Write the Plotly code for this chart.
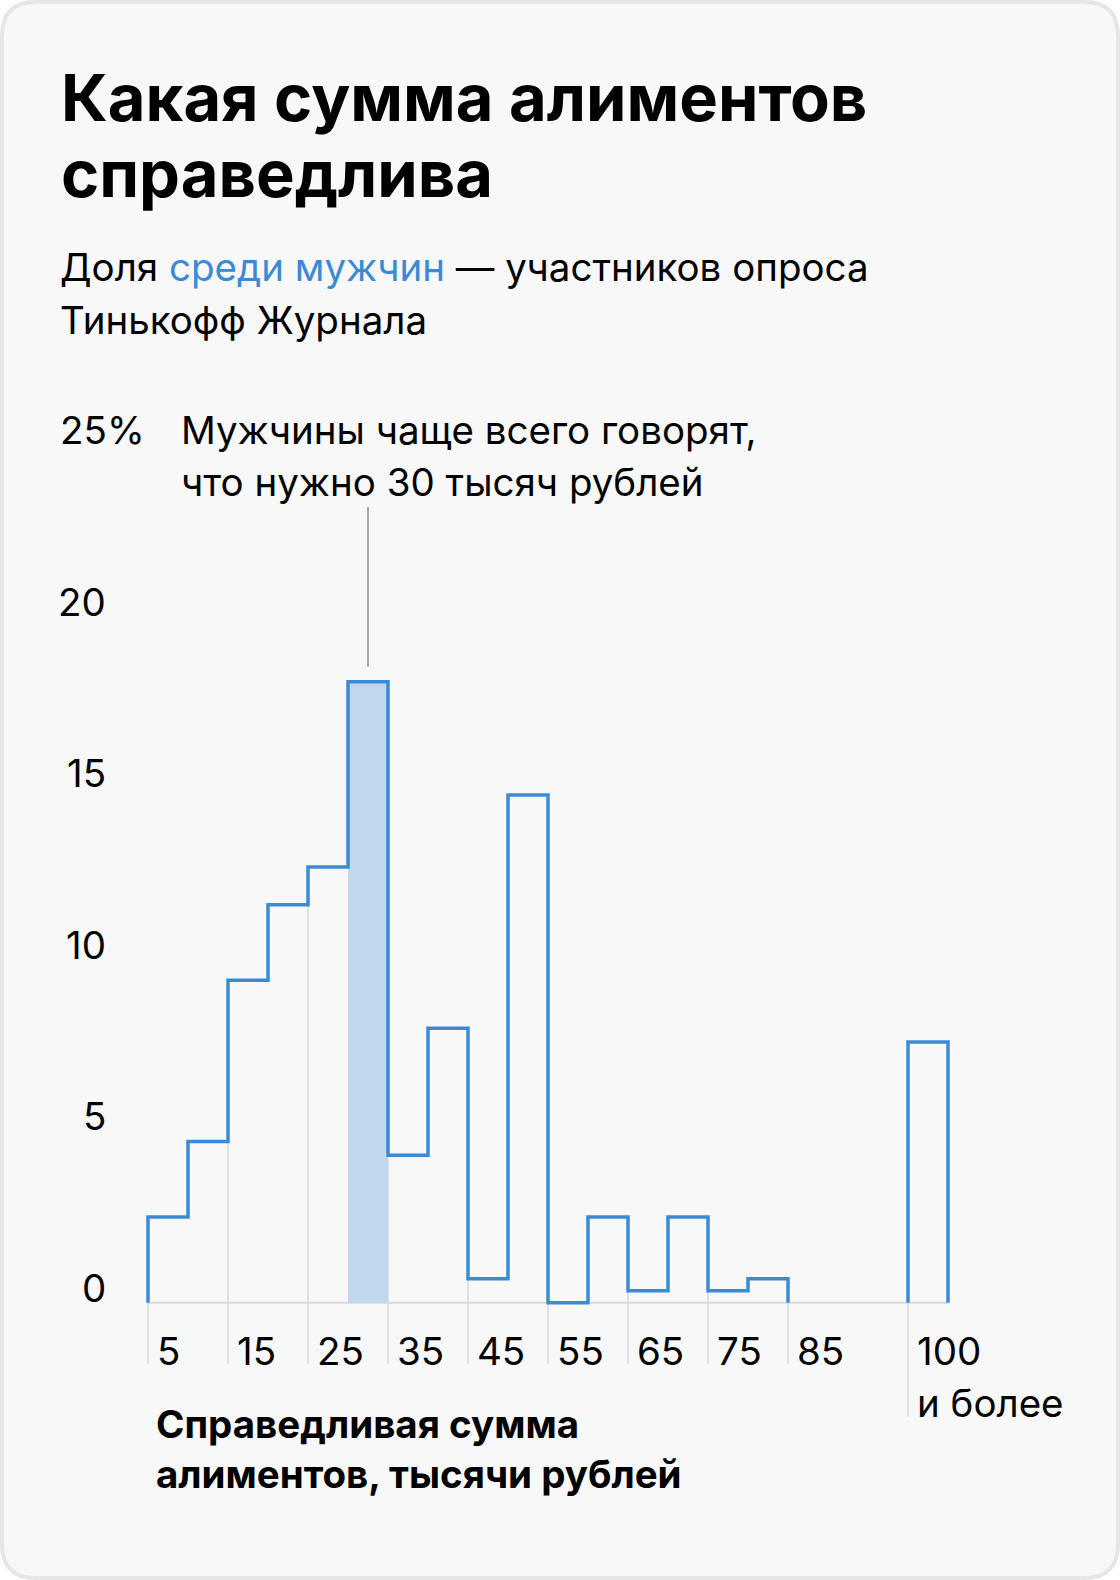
import plotly.graph_objects as go

# ---------------- data ----------------
bin_starts = [5, 10, 15, 20, 25, 30, 35, 40, 45, 50, 55, 60, 65, 70, 75, 80, 100]
shares = [2.5, 4.7, 9.4, 11.6, 12.7, 18.1, 4.3, 8.0, 0.7, 14.8, 0.0, 2.5, 0.35, 2.5, 0.35, 0.7, 7.6]
bin_width = 5
highlight_start = 30

x_tick_values = [5, 15, 25, 35, 45, 55, 65, 75, 85, 100]
x_tick_labels = ["5", "15", "25", "35", "45", "55", "65", "75", "85", "100"]
x_last_extra = "и более"
y_tick_values = [0, 5, 10, 15, 20, 25]
y_tick_labels = ["0", "5", "10", "15", "20", "25%"]

title_lines = ["Какая сумма алиментов", "справедлива"]
subtitle_lines = ["Доля <span style=\"color:#3b8ad6\">среди мужчин</span> — участников опроса",
                  "Тинькофф Журнала"]
note_lines = ["Мужчины чаще всего говорят,", "что нужно 30 тысяч рублей"]
axis_title_lines = ["Справедливая сумма", "алиментов, тысячи рублей"]

# ---------------- style ----------------
W, H = 1120, 1580
ML, MR, MT, MB = 108, 132, 428, 140
X_RANGE = [0, 110]
Y_RANGE = [-4, 25.5]
PW, PH = W - ML - MR, H - MT - MB
FONT = "Inter"
BLUE = "#3b8ad6"
FILL = "#c0d7ee"
GRID = "#d9d9d9"
CARD = "#f8f8f8"
BORDER = "#e6e6e6"
ASC, DESC = 0.969, 0.242  # font metrics


def px_x(px):
    return (px - ML) / PW


def px_y(py):
    return (H - MB - py) / PH


def ymid(baseline, size):
    return baseline - (ASC - DESC) / 2 * size


annotations = []


def add_text(text, x, baseline, size, weight=400, xanchor="left", color="#000"):
    annotations.append(dict(
        text=text, xref="paper", yref="paper", x=px_x(x), y=px_y(ymid(baseline, size)),
        xanchor=xanchor, yanchor="middle", showarrow=False, borderpad=0,
        font=dict(family=FONT, size=size, color=color, weight=weight), align="left"))


# ---------------- step outline ----------------
xs, ys = [], []
prev_end = None
for s, h in zip(bin_starts, shares):
    if prev_end is None or s != prev_end:
        if prev_end is not None:
            xs += [prev_end, None]
            ys += [0, None]
        xs.append(s)
        ys.append(0)
    xs += [s, s + bin_width]
    ys += [h, h]
    prev_end = s + bin_width
xs.append(prev_end)
ys.append(0)

hi_idx = bin_starts.index(highlight_start)
hi_val = shares[hi_idx]

fig = go.Figure()
fig.add_trace(go.Bar(x=[highlight_start + bin_width / 2], y=[hi_val], width=[bin_width],
                     marker=dict(color=FILL, line=dict(width=0)), hoverinfo="skip"))
fig.add_trace(go.Scatter(x=xs, y=ys, mode="lines", line=dict(color=BLUE, width=3.5),
                         cliponaxis=False, hoverinfo="skip", connectgaps=False))

shapes = []
# card background
r, i = 34, 2
def P(px, py):
    return f"{px_x(px):.6f},{px_y(py):.6f}"
path = (f"M{P(r + i, i)} L{P(W - r - i, i)} Q{P(W - i, i)} {P(W - i, r + i)} "
        f"L{P(W - i, H - r - i)} Q{P(W - i, H - i)} {P(W - r - i, H - i)} "
        f"L{P(r + i, H - i)} Q{P(i, H - i)} {P(i, H - r - i)} "
        f"L{P(i, r + i)} Q{P(i, i)} {P(r + i, i)} Z")
shapes.append(dict(type="path", xref="paper", yref="paper", path=path,
                   fillcolor=CARD, line=dict(color=BORDER, width=4), layer="below"))

# vertical grid lines, clipped to the histogram
heights = dict(zip(bin_starts, shares))
for v in x_tick_values:
    top = min(heights.get(v - bin_width, 0), heights.get(v, 0))
    bottom = -3.32 if v == x_tick_values[-1] else -1.78
    shapes.append(dict(type="line", xref="x", yref="y", x0=v, x1=v, y0=bottom, y1=top,
                       line=dict(color=GRID, width=1.5), layer="below"))
# baseline
shapes.append(dict(type="line", xref="x", yref="y", x0=bin_starts[0], x1=bin_starts[-1] + bin_width,
                   y0=0, y1=0, line=dict(color=GRID, width=2), layer="below"))
# leader line
shapes.append(dict(type="line", xref="x", yref="y", x0=highlight_start + bin_width / 2,
                   x1=highlight_start + bin_width / 2, y0=hi_val + 0.45, y1=23.2,
                   line=dict(color="#8c8c8c", width=1.5), layer="above"))

# texts
TS = 65
add_text(f"<b>{title_lines[0]}</b>", 60, 121, TS, 700)
add_text(f"<b>{title_lines[1]}</b>", 60, 197, TS, 700)
SS = 38.5
add_text(subtitle_lines[0], 59, 281, SS)
add_text(subtitle_lines[1], 59, 334, SS)
add_text(note_lines[0], 180, 444, SS)
add_text(note_lines[1], 180, 496, SS)
AS = 38.5
add_text(f"<b>{axis_title_lines[0]}</b>", 155, 1438, AS, 700)
add_text(f"<b>{axis_title_lines[1]}</b>", 155, 1488, AS, 700)

# y tick labels (bottom of text sits on the value level)
for v, lab in zip(y_tick_values, y_tick_labels):
    if lab.endswith("%"):
        annotations.append(dict(text=lab, xref="paper", yref="y", x=px_x(59), y=v,
                                xanchor="left", yanchor="middle", yshift=1 + (ASC - DESC) / 2 * SS,
                                showarrow=False, borderpad=0,
                                font=dict(family=FONT, size=SS, color="#000")))
    else:
        annotations.append(dict(text=lab, xref="paper", yref="y", x=px_x(107), y=v,
                                xanchor="right", yanchor="middle", yshift=1 + (ASC - DESC) / 2 * SS,
                                showarrow=False, borderpad=0,
                                font=dict(family=FONT, size=SS, color="#000")))

# x tick labels
for v, lab in zip(x_tick_values, x_tick_labels):
    annotations.append(dict(text=lab, xref="x", yref="paper", x=v, y=px_y(ymid(1365, SS)),
                            xanchor="left", yanchor="middle", xshift=8, showarrow=False, borderpad=0,
                            font=dict(family=FONT, size=SS, color="#000")))
annotations.append(dict(text=x_last_extra, xref="x", yref="paper", x=x_tick_values[-1],
                        y=px_y(ymid(1417, SS)), xanchor="left", yanchor="middle", xshift=8,
                        showarrow=False, borderpad=0, font=dict(family=FONT, size=SS, color="#000")))

fig.update_layout(
    width=W, height=H, margin=dict(l=ML, r=MR, t=MT, b=MB, autoexpand=False),
    paper_bgcolor="#ffffff", plot_bgcolor=CARD, showlegend=False,
    xaxis=dict(range=X_RANGE, visible=False, fixedrange=True),
    yaxis=dict(range=Y_RANGE, visible=False, fixedrange=True),
    shapes=shapes, annotations=annotations, bargap=0,
    font=dict(family=FONT),
)

fig.write_html("out.html", config={"displayModeBar": False})
